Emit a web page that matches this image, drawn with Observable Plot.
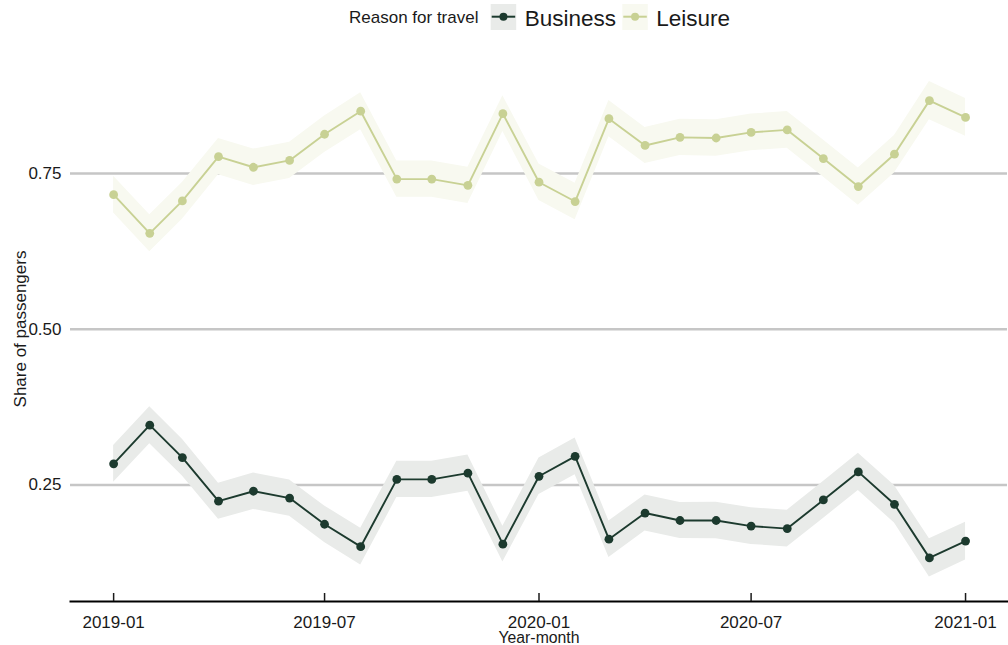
<!DOCTYPE html>
<html>
<head>
<meta charset="utf-8">
<script src="https://cdn.jsdelivr.net/npm/d3@7"></script>
<script src="https://cdn.jsdelivr.net/npm/@observablehq/plot@0.6"></script>
<style>
  body { margin: 0; background: #fff; font-family: "Liberation Sans", Arial, sans-serif; }
  #legend, #chart { width: 1008px; }
  #legend svg, #chart svg { display: block; }
</style>
</head>
<body>
<div id="legend"></div>
<div id="chart"></div>
<script>
// Monthly share of passengers by reason for travel, with 95% interval half-widths
const months = [
  "2019-01","2019-02","2019-03","2019-04","2019-05","2019-06","2019-07","2019-08","2019-09","2019-10","2019-11","2019-12",
  "2020-01","2020-02","2020-03","2020-04","2020-05","2020-06","2020-07","2020-08","2020-09","2020-10","2020-11","2020-12",
  "2021-01"
];
const business = [
  0.284, 0.346, 0.294, 0.224, 0.240, 0.229, 0.187, 0.151, 0.259, 0.259, 0.269, 0.155,
  0.264, 0.296, 0.163, 0.205, 0.193, 0.193, 0.184, 0.180, 0.226, 0.271, 0.219, 0.133,
  0.160
];
const leisure = [
  0.716, 0.654, 0.706, 0.777, 0.760, 0.771, 0.813, 0.850, 0.741, 0.741, 0.731, 0.846,
  0.736, 0.705, 0.838, 0.795, 0.808, 0.807, 0.816, 0.820, 0.774, 0.729, 0.781, 0.867,
  0.840
];
const ciHalfWidth = [
  0.0294, 0.0296, 0.0294, 0.0290, 0.0292, 0.0292, 0.0294, 0.0296, 0.0292, 0.0292, 0.0292, 0.0286,
  0.0292, 0.0294, 0.0292, 0.0290, 0.0290, 0.0292, 0.0294, 0.0294, 0.0296, 0.0298, 0.0300, 0.0306,
  0.0302
];

const reasons = ["Business", "Leisure"];
const lineColors = ["#1c3a2e", "#c8d194"];
const bandColors = ["#e9ebe9", "#f8f9f0"];
const yTicks = [0.25, 0.50, 0.75];
const xTickLabels = ["2019-01", "2019-07", "2020-01", "2020-07", "2021-01"];

const parseMonth = d3.utcParse("%Y-%m");
const series = [business, leisure];
const rows = reasons.flatMap((reason, k) =>
  months.map((m, i) => ({
    date: parseMonth(m),
    reason,
    share: series[k][i],
    lo: series[k][i] - ciHalfWidth[i],
    hi: series[k][i] + ciHalfWidth[i]
  }))
);
const xTicks = xTickLabels.map(parseMonth);
const font = '"Liberation Sans", Arial, sans-serif';

// Legend strip above the plot
const legend = d3.select("#legend").append("svg")
  .attr("width", 1008).attr("height", 34)
  .style("font-family", font);
legend.append("text").attr("x", 349).attr("y", 23.3)
  .attr("font-size", 17).attr("fill", "#1a1a1a").text("Reason for travel");
const keyX = [490.7, 622.3];
reasons.forEach((reason, k) => {
  const g = legend.append("g").attr("transform", `translate(${keyX[k]},4)`);
  g.append("rect").attr("width", 25.5).attr("height", 26).attr("fill", bandColors[k]);
  g.append("line").attr("x1", 1).attr("x2", 24.5).attr("y1", 12.7).attr("y2", 12.7)
    .attr("stroke", lineColors[k]).attr("stroke-width", 2);
  g.append("circle").attr("cx", 12.75).attr("cy", 12.7).attr("r", 4).attr("fill", lineColors[k]);
  legend.append("text").attr("x", keyX[k] + 34).attr("y", 26)
    .attr("font-size", 22.5).attr("fill", "#1a1a1a").text(reason);
});

const chart = Plot.plot({
  width: 1008,
  height: 611,
  marginLeft: 70,
  marginRight: 1,
  marginTop: 22,
  marginBottom: 44,
  style: { fontFamily: font, fontSize: "17px", color: "#1a1a1a", background: "#fff" },
  x: { type: "utc", domain: [new Date(Date.UTC(2018, 10, 25)), new Date(Date.UTC(2021, 1, 6))] },
  y: { domain: [0.063, 0.9378] },
  color: { domain: reasons, range: lineColors },
  marks: [
    Plot.gridY(yTicks, { stroke: "#c6c6c6", strokeOpacity: 1, strokeWidth: 2.5 }),
    ...reasons.map((reason, k) =>
      Plot.areaY(rows.filter(d => d.reason === reason), { x: "date", y1: "lo", y2: "hi", fill: bandColors[k] })
    ),
    Plot.line(rows, { x: "date", y: "share", z: "reason", stroke: "reason", strokeWidth: 1.9 }),
    Plot.dot(rows, { x: "date", y: "share", fill: "reason", r: 4.4 }),
    Plot.frame({ anchor: "bottom", stroke: "#000", strokeWidth: 2 }),
    Plot.axisX(xTicks, { tickSize: 8, dy: -8, tickFormat: () => "", label: null, strokeWidth: 1.5 }),
    Plot.axisX(xTicks, { tickSize: 0, tickPadding: 14, tickFormat: d3.utcFormat("%Y-%m"), label: null, fontSize: 17 }),
    Plot.axisY(yTicks, { tickSize: 0, tickPadding: 9, tickFormat: d3.format(".2f"), label: null, fontSize: 17 }),
    Plot.text(["Share of passengers"], { frameAnchor: "left", textAnchor: "middle", rotate: -90, dx: -50, fontSize: 17, fill: "#1a1a1a" }),
    Plot.text(["Year-month"], { frameAnchor: "bottom", lineAnchor: "bottom", dy: 41, fontSize: 15.8, fill: "#1a1a1a" })
  ]
});
document.getElementById("chart").appendChild(chart);
</script>
</body>
</html>
